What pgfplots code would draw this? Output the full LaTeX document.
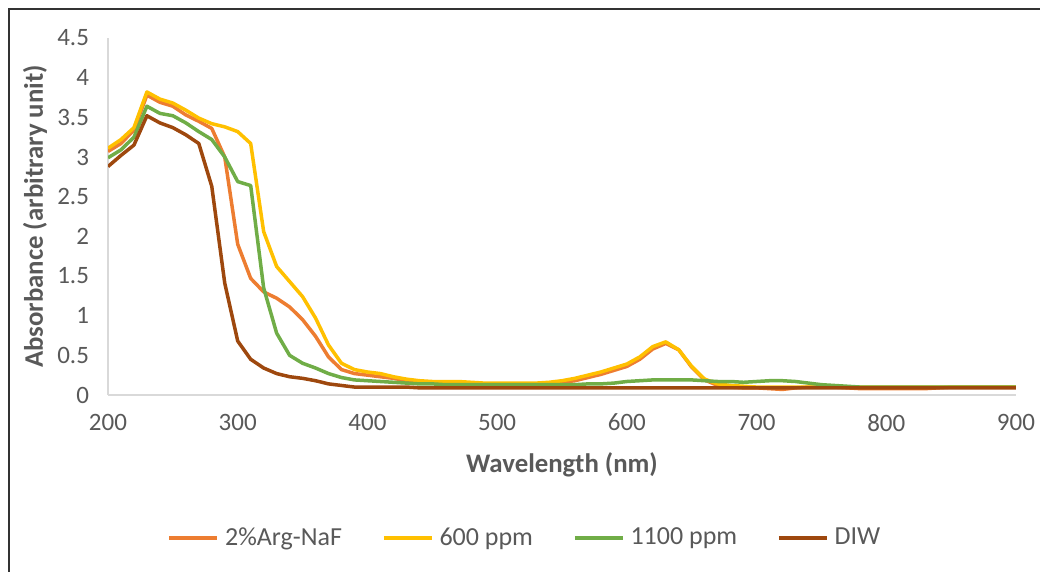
\documentclass[border=0pt]{standalone}
\usepackage{pgfplots}
\pgfplotsset{compat=1.18}
\usepackage{fontspec}
\setmainfont{Carlito}
\definecolor{cOrange}{HTML}{ED7D31}
\definecolor{cYellow}{HTML}{FFC000}
\definecolor{cGreen}{HTML}{70AD47}
\definecolor{cBrown}{HTML}{9E480E}
\definecolor{cText}{HTML}{595959}
\definecolor{cAxis}{HTML}{D9D9D9}
\begin{document}
\begin{tikzpicture}
\useasboundingbox (0,0) rectangle (520pt,286pt);
\draw[black!80, line width=0.7pt] (4.5pt,0) -- (4.5pt,281.5pt) -- (520pt,281.5pt);
\begin{axis}[
  at={(54pt,88.5pt)}, anchor=south west,
  scale only axis, width=454pt, height=178.5pt,
  xmin=200, xmax=900, ymin=0, ymax=4.5,
  xtick={200,300,...,900},
  ytick={0,0.5,1,1.5,2,2.5,3,3.5,4,4.5},
  major tick length=0pt,
  axis x line*=bottom, axis y line*=left,
  axis line style={cAxis, line width=0.8pt},
  /pgf/number format/assume math mode=true,
  tick label style={font=\fontsize{12.5}{14}\selectfont, text=cText},
  yticklabel style={xshift=-6pt},
  xticklabel style={yshift=-6pt},
  xlabel={Wavelength (nm)},
  ylabel={Absorbance (arbitrary unit)},
  label style={font=\bfseries\fontsize{13.4}{16}\selectfont, text=cText},
  xlabel style={at={(axis description cs:0.5,0)}, anchor=center, yshift=-35pt},
  ylabel style={at={(axis description cs:0,0.5)}, anchor=center, yshift=36.5pt},
  legend columns=4,
  legend style={at={(axis description cs:0.5,0)}, anchor=center, xshift=-18pt, yshift=-71.5pt,
    draw=none, fill=none, font=\fontsize{13}{15}\selectfont, text=cText,
    /tikz/every odd column/.append style={column sep=1pt},
    /tikz/every even column/.append style={column sep=18pt}},
  every axis plot/.append style={line width=1.75pt, line join=round,
    legend image code/.code={\draw[##1] (0pt,0pt) -- (24pt,0pt);}},
]
\addplot[cOrange] coordinates {
(200,3.07)(210,3.17)(220,3.34)(230,3.78)(240,3.69)(250,3.64)(260,3.53)(270,3.45)(280,3.36)(290,3.00)
(300,1.90)(310,1.47)(320,1.30)(330,1.22)(340,1.11)(350,0.95)(360,0.74)(370,0.48)(380,0.32)(390,0.27)
(400,0.25)(410,0.23)(420,0.21)(430,0.18)(440,0.16)(450,0.15)(460,0.15)(470,0.15)(480,0.14)(490,0.14)
(500,0.14)(510,0.14)(520,0.14)(530,0.14)(540,0.15)(550,0.16)(560,0.18)(570,0.22)(580,0.26)(590,0.31)
(600,0.36)(610,0.45)(620,0.58)(630,0.65)(640,0.57)(650,0.35)(660,0.19)(670,0.12)(680,0.10)(690,0.09)
(700,0.09)(710,0.08)(720,0.07)(730,0.09)(740,0.10)(750,0.10)(760,0.10)(770,0.09)(780,0.08)(790,0.08)
(800,0.08)(810,0.08)(820,0.08)(830,0.08)(840,0.09)(850,0.10)(860,0.10)(870,0.10)(880,0.10)(890,0.10)(900,0.10)
};
\addlegendentry{2\%Arg-NaF}
\addplot[cYellow] coordinates {
(200,3.11)(210,3.22)(220,3.37)(230,3.82)(240,3.73)(250,3.68)(260,3.59)(270,3.49)(280,3.42)(290,3.38)
(300,3.32)(310,3.17)(320,2.06)(330,1.62)(340,1.43)(350,1.24)(360,0.97)(370,0.63)(380,0.40)(390,0.32)
(400,0.29)(410,0.27)(420,0.23)(430,0.20)(440,0.18)(450,0.17)(460,0.17)(470,0.17)(480,0.16)(490,0.15)
(500,0.15)(510,0.15)(520,0.15)(530,0.15)(540,0.16)(550,0.18)(560,0.21)(570,0.25)(580,0.29)(590,0.34)
(600,0.39)(610,0.48)(620,0.61)(630,0.67)(640,0.57)(650,0.36)(660,0.20)(670,0.14)(680,0.12)(690,0.11)
(700,0.10)(710,0.10)(720,0.10)(730,0.10)(740,0.10)(750,0.10)(760,0.10)(770,0.10)(780,0.10)(790,0.10)
(800,0.10)(810,0.10)(820,0.10)(830,0.10)(840,0.10)(850,0.10)(860,0.10)(870,0.10)(880,0.10)(890,0.10)(900,0.10)
};
\addlegendentry{600 ppm}
\addplot[cGreen] coordinates {
(200,2.99)(210,3.09)(220,3.25)(230,3.64)(240,3.55)(250,3.52)(260,3.43)(270,3.32)(280,3.22)(290,3.00)
(300,2.69)(310,2.64)(320,1.35)(330,0.78)(340,0.50)(350,0.40)(360,0.34)(370,0.27)(380,0.22)(390,0.19)
(400,0.18)(410,0.17)(420,0.16)(430,0.15)(440,0.14)(450,0.14)(460,0.13)(470,0.13)(480,0.13)(490,0.13)
(500,0.13)(510,0.13)(520,0.13)(530,0.13)(540,0.13)(550,0.13)(560,0.13)(570,0.14)(580,0.14)(590,0.15)
(600,0.17)(610,0.18)(620,0.19)(630,0.19)(640,0.19)(650,0.19)(660,0.18)(670,0.17)(680,0.17)(690,0.16)
(700,0.17)(710,0.18)(720,0.18)(730,0.17)(740,0.15)(750,0.13)(760,0.12)(770,0.11)(780,0.10)(790,0.10)
(800,0.10)(810,0.10)(820,0.10)(830,0.10)(840,0.10)(850,0.10)(860,0.10)(870,0.10)(880,0.10)(890,0.10)(900,0.10)
};
\addlegendentry{1100 ppm}
\addplot[cBrown] coordinates {
(200,2.88)(210,3.02)(220,3.15)(230,3.52)(240,3.43)(250,3.37)(260,3.28)(270,3.17)(280,2.63)(290,1.41)
(300,0.68)(310,0.45)(320,0.34)(330,0.27)(340,0.23)(350,0.21)(360,0.18)(370,0.14)(380,0.12)(390,0.10)
(400,0.10)(410,0.10)(420,0.10)(430,0.10)(440,0.09)(450,0.09)(460,0.09)(470,0.09)(480,0.09)(490,0.09)
(500,0.09)(510,0.09)(520,0.09)(530,0.09)(540,0.09)(550,0.09)(560,0.09)(570,0.09)(580,0.09)(590,0.09)
(600,0.09)(610,0.09)(620,0.09)(630,0.09)(640,0.09)(650,0.09)(660,0.09)(670,0.09)(680,0.09)(690,0.09)
(700,0.09)(710,0.09)(720,0.09)(730,0.09)(740,0.09)(750,0.09)(760,0.09)(770,0.09)(780,0.09)(790,0.09)
(800,0.09)(810,0.09)(820,0.09)(830,0.09)(840,0.09)(850,0.09)(860,0.09)(870,0.09)(880,0.09)(890,0.09)(900,0.09)
};
\addlegendentry{DIW}
\end{axis}
\end{tikzpicture}
\end{document}
